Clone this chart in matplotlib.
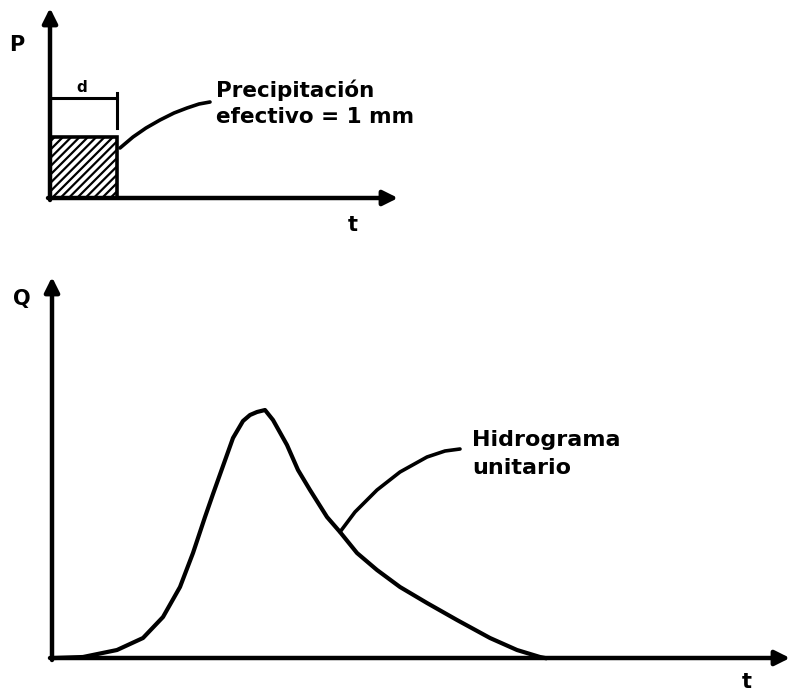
import matplotlib
matplotlib.use('Agg')

import numpy as np
import matplotlib.pyplot as plt
from matplotlib.patches import Rectangle

plt.rcParams['hatch.linewidth'] = 1.6

# everything below is in picture units (x right, y down)
# top panel: rainfall of duration d
p_origin = (50, 198)
p_xtip = 398
p_ytip = 8
bar_x = [50, 117]          # start / end of rain, d
bar_top = 137              # effective rainfall = 1 mm
d_bracket_y = 98

leader_p_x = [120, 133, 146, 160, 174, 187, 199, 210]
leader_p_y = [148, 137, 128, 120, 113, 108, 104, 102]

# bottom panel: unit hydrograph
q_origin = (52, 658)
q_xtip = 790
q_ytip = 277

hydro_x = [55, 83, 117, 143, 163, 180, 193, 205, 213, 223, 233, 243, 250, 257,
           265, 273, 287, 298, 310, 327, 340, 357, 377, 400, 427, 457, 490, 517,
           540, 545]
hydro_y = [658, 657, 650, 638, 617, 587, 553, 517, 494, 466, 438, 421, 415, 412,
           410, 420, 445, 470, 490, 517, 532, 553, 570, 587, 603, 620, 638, 650,
           657, 658]

leader_q_x = [340, 355, 377, 400, 427, 445, 460]
leader_q_y = [532, 512, 490, 472, 457, 451, 449]

fig = plt.figure(figsize=(7.91, 6.95), dpi=100)
ax = fig.add_axes([0, 0, 1, 1])
ax.set_xlim(0, 791)
ax.set_ylim(695, 0)
ax.axis('off')

arrow = dict(arrowstyle='-|>', lw=3.2, color='black', mutation_scale=22,
             shrinkA=0, shrinkB=0)

# --- top panel ---
ax.annotate('', xy=(p_xtip, p_origin[1]), xytext=(p_origin[0] - 2, p_origin[1]),
            arrowprops=arrow)
ax.annotate('', xy=(p_origin[0], p_ytip), xytext=(p_origin[0], p_origin[1] + 2),
            arrowprops=arrow)

ax.add_patch(Rectangle((bar_x[0], bar_top), bar_x[1] - bar_x[0],
                       p_origin[1] - bar_top, facecolor='white',
                       edgecolor='black', lw=2.6, hatch='////'))
ax.plot(bar_x, [d_bracket_y, d_bracket_y], color='black', lw=2.2)
ax.plot([bar_x[1], bar_x[1]], [d_bracket_y - 5, d_bracket_y + 30],
        color='black', lw=2.2)
ax.text(82, 88, 'd', fontsize=11, fontweight='bold', ha='center', va='center')
ax.text(17, 45, 'P', fontsize=15, fontweight='bold', ha='center', va='center')
ax.text(353, 225, 't', fontsize=15, fontweight='bold', ha='center', va='center')

ax.plot(leader_p_x, leader_p_y, color='black', lw=2.6, solid_capstyle='round')
ax.text(216, 103, 'Precipitación\nefectivo = 1 mm', fontsize=15.5,
        fontweight='bold', ha='left', va='center', linespacing=1.4)

# --- bottom panel ---
ax.annotate('', xy=(q_xtip, q_origin[1]), xytext=(q_origin[0] - 2, q_origin[1]),
            arrowprops=arrow)
ax.annotate('', xy=(q_origin[0], q_ytip), xytext=(q_origin[0], q_origin[1] + 2),
            arrowprops=arrow)

ax.plot(hydro_x, hydro_y, color='black', lw=3.0, solid_joinstyle='round')
ax.plot(leader_q_x, leader_q_y, color='black', lw=2.6, solid_capstyle='round')
ax.text(472, 454, 'Hidrograma\nunitario', fontsize=16, fontweight='bold',
        ha='left', va='center', linespacing=1.45)

ax.text(22, 299, 'Q', fontsize=15, fontweight='bold', ha='center', va='center')
ax.text(747, 672, 't', fontsize=15, fontweight='bold', ha='center', va='top')

plt.savefig('out.png', dpi=100)
